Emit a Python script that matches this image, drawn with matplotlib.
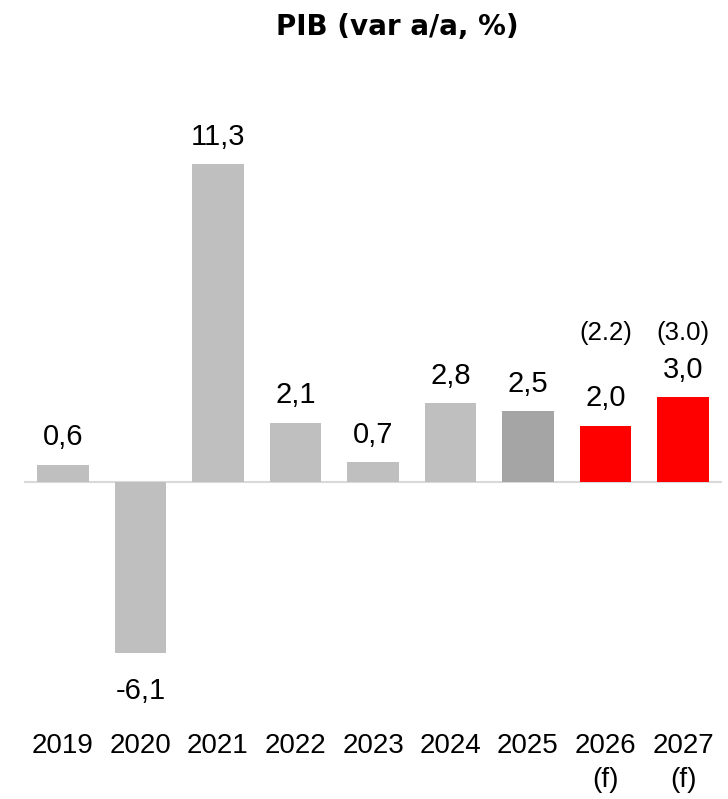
import matplotlib
matplotlib.use("Agg")
import matplotlib.pyplot as plt

# data
years = ["2019", "2020", "2021", "2022", "2023", "2024", "2025", "2026\n(f)", "2027\n(f)"]
gdp = [0.6, -6.1, 11.3, 2.1, 0.7, 2.8, 2.5, 2.0, 3.0]
labels = ["0,6", "-6,1", "11,3", "2,1", "0,7", "2,8", "2,5", "2,0", "3,0"]
prev_idx = [7, 8]
prev_labels = ["(2.2)", "(3.0)"]
colors = ["#BFBFBF"] * 6 + ["#A5A5A5"] + ["#FF0000"] * 2

plt.rcParams['font.family'] = ['Liberation Sans', 'DejaVu Sans']

fig = plt.figure(figsize=(7.28, 7.99), dpi=100)
ax = fig.add_axes([24.25 / 728, 0.1333, 697.5 / 728, 0.721])

x = list(range(len(years)))
ax.bar(x, gdp, width=0.67, color=colors, zorder=2)
ax.axhline(0, color="#D9D9D9", lw=1.5, zorder=1)

ax.set_xlim(-0.5, 8.5)
ax.set_ylim(-7.5, 13)

for i, (v, lab) in enumerate(zip(gdp, labels)):
    if v >= 0:
        ax.annotate(lab, (i, v), xytext=(0, 14), textcoords="offset points",
                    ha="center", va="baseline", fontsize=21)
    else:
        ax.annotate(lab, (i, v), xytext=(0, -33), textcoords="offset points",
                    ha="center", va="baseline", fontsize=21)

for i, lab in zip(prev_idx, prev_labels):
    ax.text(i, 5.06, lab, ha="center", va="baseline", fontsize=18.5)

ax.set_xticks(x)
ax.set_xticklabels(years, fontsize=20, linespacing=1.4)
ax.tick_params(axis="x", length=0, pad=29)
ax.set_yticks([])
for s in ax.spines.values():
    s.set_visible(False)

fig.text(397 / 728, 1 - 35 / 799, "PIB (var a/a, %)", ha="center", va="baseline",
         fontsize=20, fontweight="bold", family="DejaVu Sans")

fig.savefig("out.png", dpi=100)
